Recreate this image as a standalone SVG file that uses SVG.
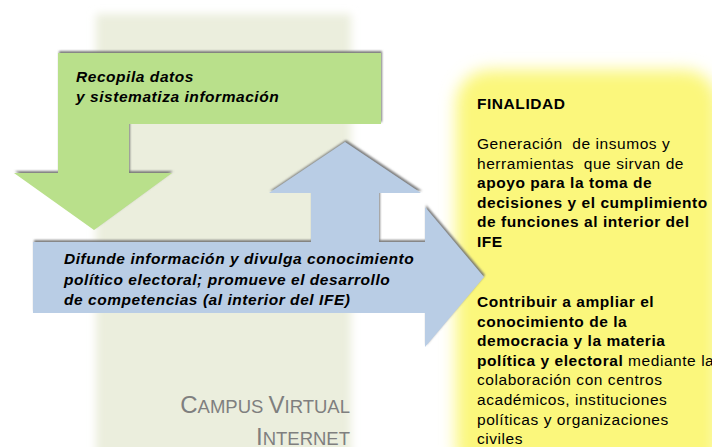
<svg xmlns="http://www.w3.org/2000/svg" width="712" height="447" viewBox="0 0 712 447">
<style>
.t{font-family:"Liberation Sans",Arial,sans-serif;font-size:15.5px;letter-spacing:0.55px;fill:#000}
.bi{font-weight:bold;font-style:italic}
.b{font-weight:bold}
.cv{font-family:"Liberation Sans",Arial,sans-serif;fill:#7f7f7f}
</style>
<defs>
<filter id="soft" x="-10%" y="-10%" width="120%" height="120%"><feGaussianBlur stdDeviation="4"/></filter>
<filter id="glow" x="-20%" y="-20%" width="140%" height="140%"><feGaussianBlur stdDeviation="8"/></filter>
<filter id="sh" x="-10%" y="-10%" width="120%" height="120%">
<feOffset in="SourceAlpha" dx="1" dy="-2" result="o"/>
<feGaussianBlur in="o" stdDeviation="1.2" result="b"/>
<feFlood flood-color="#6f6f6f" flood-opacity="0.9"/>
<feComposite in2="b" operator="in" result="s"/>
<feMerge><feMergeNode in="s"/><feMergeNode in="SourceGraphic"/></feMerge>
</filter>
</defs>
<rect width="712" height="447" fill="#fff"/>
<g id="panel"><rect x="96" y="14" width="255" height="460" fill="#EBEEDD" filter="url(#soft)"/></g>
<g id="finalidad">
<rect x="456" y="70" width="262" height="410" rx="34" fill="#FBF77C" filter="url(#glow)"/>
<text class="t b" x="477" y="109">FINALIDAD</text>
<text class="t" x="477" y="149" xml:space="preserve">Generación  de insumos y</text>
<text class="t" x="477" y="168.6" xml:space="preserve">herramientas  que sirvan de</text>
<text class="t b" x="477" y="188.2">apoyo para la toma de</text>
<text class="t b" x="477" y="207.8">decisiones y el cumplimiento</text>
<text class="t b" x="477" y="227.4">de funciones al interior del</text>
<text class="t b" x="477" y="247">IFE</text>
<text class="t b" x="477" y="307">Contribuir a ampliar el</text>
<text class="t b" x="477" y="326.6">conocimiento de la</text>
<text class="t b" x="477" y="346.2">democracia y la materia</text>
<text class="t" x="477" y="365.8"><tspan class="b">política y electoral</tspan> mediante la</text>
<text class="t" x="477" y="385.4">colaboración con centros</text>
<text class="t" x="477" y="405">académicos, instituciones</text>
<text class="t" x="477" y="424.6">políticas y organizaciones</text>
<text class="t" x="477" y="444.2">civiles</text>
</g>
<g id="connectors">
<g id="recopila">
<polygon points="58,53 381,53 381,124 129,124 129,173 172,173 94,230 14,173 58,173" fill="#B9E08B" filter="url(#sh)"/>
<text class="t bi" x="76" y="82">Recopila datos</text>
<text class="t bi" x="76" y="101.5">y sistematiza información</text>
</g>
<g id="difunde">
<polygon points="33,242 311,242 311,193 269,193 345,142 421,193 379,193 379,242 425,242 425,207 484,277 425,347 425,313 33,313" fill="#B9CDE5" filter="url(#sh)"/>
<text class="t bi" x="64" y="264">Difunde información y divulga conocimiento</text>
<text class="t bi" x="64" y="284.5">político electoral; promueve el desarrollo</text>
<text class="t bi" x="64" y="304.5">de competencias (al interior del IFE)</text>
</g>
</g>
<g id="campus">
<text class="cv" x="350" y="413" text-anchor="end" font-size="24">C<tspan font-size="18.5">AMPUS </tspan>V<tspan font-size="18.5">IRTUAL</tspan></text>
<text class="cv" x="350" y="445" text-anchor="end" font-size="24">I<tspan font-size="18.5">NTERNET</tspan></text>
</g>
</svg>
